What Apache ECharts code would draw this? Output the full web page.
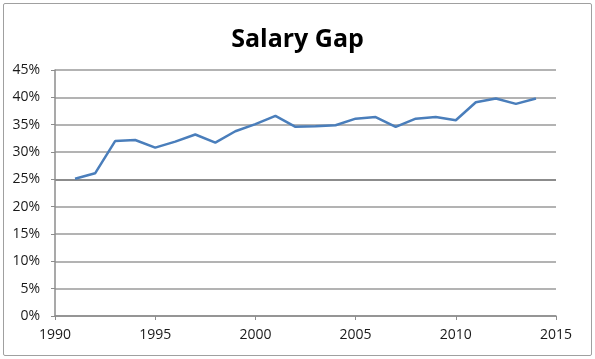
<!DOCTYPE html>
<html><head><meta charset="utf-8">
<script src="https://cdn.jsdelivr.net/npm/echarts@6/dist/echarts.min.js"></script>
<style>html,body{margin:0;padding:0;background:#fff}#c{width:595px;height:359px}
#frame{position:absolute;left:3px;top:3px;width:587px;height:351px;border:1px solid #a0a0a0;border-radius:2px;pointer-events:none}</style>
</head><body><div id="c"></div><div id="frame"></div>
<script>
const years = [1991,1992,1993,1994,1995,1996,1997,1998,1999,2000,2001,2002,2003,2004,2005,2006,2007,2008,2009,2010,2011,2012,2013,2014];
const gap = [25.1,26.1,32.0,32.2,30.8,31.9,33.2,31.7,33.8,35.1,36.6,34.6,34.7,34.9,36.1,36.4,34.6,36.1,36.4,35.8,39.1,39.8,38.8,39.8];
const chart = echarts.init(document.getElementById('c'));
const g = '#9a9a9a', gd = '#666';
chart.setOption({
  animation:false,
  title:{text:'Salary Gap',left:'center',top:22,textStyle:{fontFamily:'Open Sans',fontWeight:'bold',fontSize:25,color:'#000'}},
  grid:{left:55,right:39,top:70,bottom:43},
  xAxis:{type:'value',min:1990,max:2015,interval:5,
    axisLine:{show:true,lineStyle:{color:'#8c8c8c',width:1.5}},
    axisTick:{show:true,length:4,lineStyle:{color:'#8c8c8c'}},
    splitLine:{show:false},
    axisLabel:{color:'#1a1a1a',fontFamily:'Open Sans',fontSize:14,margin:12,formatter:v=>String(v)}},
  yAxis:{type:'value',min:0,max:45,interval:5,
    axisLine:{show:true,lineStyle:{color:'#8c8c8c',width:1.5}},
    axisTick:{show:true,length:4,lineStyle:{color:'#8c8c8c'}},
    splitLine:{show:true,lineStyle:{color:[g,g,g,g,g,gd,g,g,g,g],width:1.5}},
    axisLabel:{color:'#1a1a1a',fontFamily:'Open Sans',fontSize:14,margin:15,formatter:v=>v+'%'}},
  series:[{type:'line',data:years.map((y,i)=>[y,gap[i]]),showSymbol:false,
    lineStyle:{color:'#4a7ebb',width:2.5}}]
});
</script></body></html>
